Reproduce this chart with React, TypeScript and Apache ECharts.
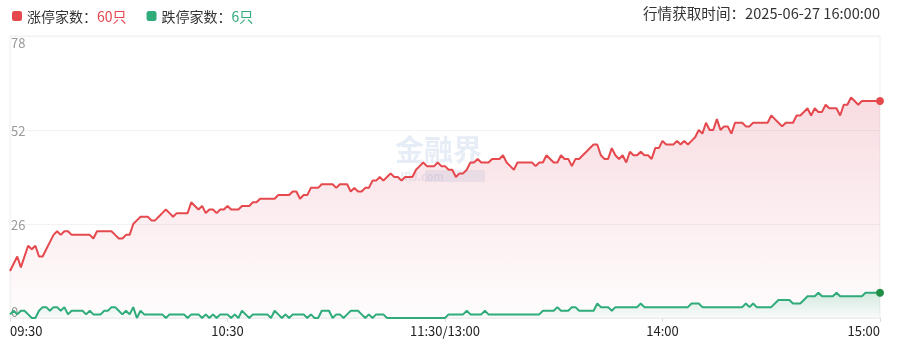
import React, { useEffect, useRef } from "react";
import * as echarts from "echarts";

const upCount = 60;
const downCount = 6;
const fetchTime = "2025-06-27 16:00:00";
const yTicks = [0, 26, 52, 78];
const tickLabels: Record<number, string> = {
  0: "09:30",
  60: "10:30",
  120: "11:30/13:00",
  180: "14:00",
  240: "15:00",
};

// 涨停家数 per minute (241 points)
const limitUp = [
  13, 15, 17, 14, 17, 20, 19, 20, 17, 17,
  19, 21, 23, 24, 23, 24, 24, 23, 23, 23,
  23, 23, 23, 22, 24, 24, 24, 24, 24, 23,
  22, 22, 23, 23, 26, 27, 28, 28, 28, 27,
  27, 28, 29, 30, 29, 28, 29, 29, 29, 29,
  32, 31, 30, 31, 29, 30, 30, 29, 30, 30,
  31, 30, 30, 30, 31, 31, 31, 32, 32, 33,
  33, 33, 33, 33, 34, 34, 34, 34, 35, 35,
  33, 34, 34, 36, 36, 36, 37, 37, 37, 37,
  36, 37, 37, 37, 35, 36, 35, 35, 36, 36,
  38, 38, 39, 38, 39, 40, 39, 39, 38, 39,
  39, 39, 41, 42, 43, 42, 42, 42, 43, 42,
  42, 41, 41, 39, 40, 40, 41, 43, 43, 44,
  43, 43, 43, 44, 44, 44, 45, 43, 42, 41,
  43, 43, 43, 43, 43, 42, 43, 43, 45, 44,
  43, 43, 45, 44, 44, 42, 44, 44, 45, 46,
  47, 48, 48, 45, 44, 44, 47, 45, 44, 45,
  43, 46, 45, 45, 46, 45, 45, 44, 47, 47,
  49, 48, 48, 48, 49, 48, 49, 48, 49, 50,
  52, 51, 54, 52, 52, 55, 52, 53, 53, 51,
  54, 54, 54, 53, 53, 54, 54, 54, 54, 54,
  56, 55, 54, 53, 54, 54, 54, 56, 56, 57,
  58, 56, 58, 57, 57, 59, 58, 58, 58, 56,
  59, 59, 61, 60, 59, 60, 60, 60, 60, 60,
  60,
];

// 跌停家数 per minute (241 points)
const limitDown = [
  1, 2, 1, 2, 2, 1, 0, 0, 2, 3,
  3, 2, 3, 3, 2, 3, 1, 2, 2, 2,
  2, 1, 2, 1, 1, 1, 2, 2, 3, 3,
  2, 1, 2, 1, 3, 0, 2, 1, 1, 1,
  1, 1, 1, 0, 1, 1, 1, 1, 1, 0,
  1, 1, 1, 0, 1, 0, 1, 0, 1, 1,
  1, 0, 1, 0, 2, 1, 0, 1, 1, 1,
  1, 1, 0, 2, 1, 0, 1, 0, 1, 1,
  1, 1, 0, 1, 0, 0, 2, 2, 2, 0,
  1, 1, 0, 1, 2, 2, 2, 1, 0, 1,
  0, 1, 1, 1, 0, 0, 0, 0, 0, 0,
  0, 0, 0, 0, 0, 0, 0, 0, 0, 0,
  0, 1, 1, 1, 1, 1, 2, 1, 1, 1,
  1, 2, 1, 1, 1, 1, 1, 1, 1, 1,
  1, 1, 1, 1, 1, 1, 1, 2, 2, 2,
  2, 3, 2, 2, 2, 3, 3, 2, 2, 2,
  2, 2, 4, 3, 3, 3, 2, 3, 3, 3,
  3, 3, 3, 3, 4, 3, 3, 3, 3, 3,
  3, 3, 3, 3, 3, 3, 3, 3, 4, 4,
  4, 3, 3, 3, 3, 3, 3, 3, 3, 3,
  3, 3, 3, 4, 3, 4, 3, 3, 3, 3,
  3, 4, 5, 5, 5, 5, 4, 4, 4, 5,
  6, 6, 6, 7, 6, 6, 6, 6, 7, 6,
  6, 6, 6, 6, 6, 6, 7, 7, 7, 7,
  7,
];

function buildTimes(): string[] {
  const out: string[] = [];
  const pad = (n: number) => (n < 10 ? "0" + n : "" + n);
  for (let m = 9 * 60 + 30; m <= 11 * 60 + 30; m++) out.push(pad(Math.floor(m / 60)) + ":" + pad(m % 60));
  for (let m = 13 * 60 + 1; m <= 15 * 60; m++) out.push(pad(Math.floor(m / 60)) + ":" + pad(m % 60));
  return out;
}

const RED = "#e5484d";
const GREEN = "#2fac7a";
const GREEN_DOT = "#1f8f45";
const FONT = '"Noto Sans CJK SC", "Noto Sans", sans-serif';

export default function App() {
  const ref = useRef<HTMLDivElement>(null);
  useEffect(() => {
    if (!ref.current) return;
    const chart = echarts.init(ref.current, undefined, { renderer: "svg" });
    const times = buildTimes();
    const last = times.length - 1;
    const withEndDot = (arr: number[], dot: string) =>
      arr.map((v, i) =>
        i === last ? { value: v, symbol: "circle", symbolSize: 8, itemStyle: { color: dot } } : v
      );
    chart.setOption({
      animation: false,
      textStyle: { fontFamily: FONT },
      grid: { left: 10, right: 19, top: 36, bottom: 38, show: true, borderColor: "#eeeeee", borderWidth: 1 },
      legend: {
        left: 7,
        top: 4,
        icon: "roundRect",
        itemWidth: 10,
        itemHeight: 10,
        itemGap: 20,
        selectedMode: false,
        data: ["涨停家数", "跌停家数"],
        formatter: (name: string) =>
          name === "涨停家数" ? `{a|${name}：}{r|${upCount}只}` : `{a|${name}：}{g|${downCount}只}`,
        textStyle: {
          fontFamily: FONT,
          fontSize: 14,
          rich: {
            a: { fontFamily: FONT, fontSize: 14, color: "#333" },
            r: { fontFamily: FONT, fontSize: 14, color: RED },
            g: { fontFamily: FONT, fontSize: 14, color: GREEN },
          },
        },
      },
      graphic: [
        {
          type: "text",
          right: 19,
          top: 5,
          style: { text: "行情获取时间：" + fetchTime, font: `14.6px ${FONT}`, fill: "#333" },
        },
        {
          type: "group",
          left: 395,
          top: 133,
          silent: true,
          z: 0,
          children: [
            {
              type: "text",
              x: 0,
              y: 0,
              style: { text: "金融界", font: `bold 29px ${FONT}`, fill: "rgba(170,190,225,0.28)" },
            },
            { type: "rect", x: 30, y: 37, shape: { width: 60, height: 12 }, style: { fill: "rgba(170,190,225,0.22)" } },
            {
              type: "text",
              x: 3,
              y: 37,
              style: { text: "JRJ.com", font: `bold 11px ${FONT}`, fill: "rgba(170,190,225,0.3)" },
            },
          ],
        },
      ],
      xAxis: {
        type: "category",
        boundaryGap: false,
        data: times,
        axisLine: { show: true, lineStyle: { color: "#eeeeee" } },
        axisTick: {
          show: true,
          interval: (i: number) => tickLabels[i] !== undefined,
          length: 4,
          lineStyle: { color: "#dddddd" },
        },
        axisLabel: {
          interval: (i: number) => tickLabels[i] !== undefined,
          formatter: (_v: string, i: number) => tickLabels[i] ?? "",
          color: "#222",
          fontSize: 13,
          fontFamily: FONT,
          margin: 6,
          alignMinLabel: "left",
          alignMaxLabel: "right",
        },
        splitLine: { show: false },
      },
      yAxis: {
        type: "value",
        min: yTicks[0],
        max: yTicks[yTicks.length - 1],
        interval: yTicks[1] - yTicks[0],
        axisLine: { show: false },
        axisTick: { show: false },
        axisLabel: {
          inside: true,
          margin: 1,
          color: "#999",
          fontSize: 13,
          fontFamily: FONT,
          verticalAlignMaxLabel: "top",
          verticalAlignMinLabel: "bottom",
        },
        splitLine: { show: true, lineStyle: { color: "#f2f2f2" } },
      },
      series: [
        {
          name: "涨停家数",
          type: "line",
          data: withEndDot(limitUp, RED),
          color: RED,
          symbol: "none",
          showSymbol: true,
          showAllSymbol: true,
          lineStyle: { color: RED, width: 2 },
          itemStyle: { color: RED },
          areaStyle: {
            color: new echarts.graphic.LinearGradient(0, 0, 0, 1, [
              { offset: 0, color: "rgba(222,90,115,0.30)" },
              { offset: 1, color: "rgba(222,90,115,0.02)" },
            ]),
          },
          z: 2,
        },
        {
          name: "跌停家数",
          type: "line",
          data: withEndDot(limitDown, GREEN_DOT),
          color: GREEN,
          symbol: "none",
          showSymbol: true,
          showAllSymbol: true,
          lineStyle: { color: GREEN, width: 2 },
          itemStyle: { color: GREEN },
          areaStyle: {
            color: new echarts.graphic.LinearGradient(0, 0, 0, 1, [
              { offset: 0, color: "rgba(47,172,122,0.28)" },
              { offset: 1, color: "rgba(47,172,122,0.03)" },
            ]),
          },
          z: 3,
        },
      ],
    });
    return () => chart.dispose();
  }, []);
  return <div ref={ref} style={{ position: "fixed", left: 0, top: 0, width: 899, height: 356 }} />;
}
